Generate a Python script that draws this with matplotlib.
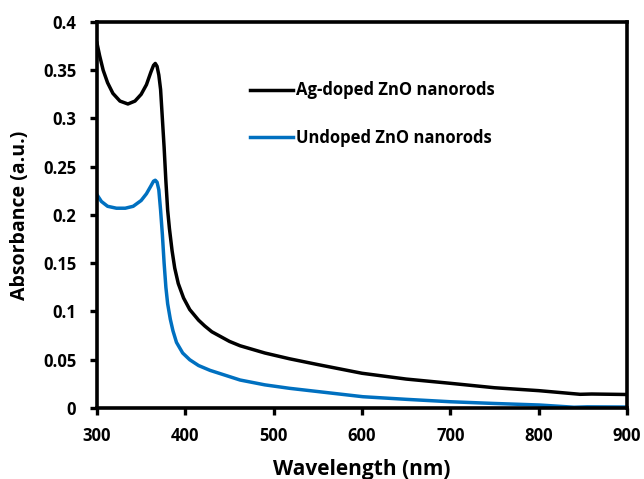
import matplotlib
matplotlib.use('Agg')
import matplotlib.pyplot as plt

plt.rcParams['font.family'] = ['Open Sans', 'DejaVu Sans']

# UV-vis absorbance spectra
wl_ag = [300, 303, 307, 312, 318, 326, 335, 343, 350, 356, 361, 364, 366, 368, 370, 372, 374,
         376, 378, 380, 382, 385, 388, 392, 398, 405, 415, 422, 430, 440, 450, 462, 490, 518,
         550, 600, 650, 700, 750, 800, 847, 860, 900]
abs_ag = [0.378, 0.365, 0.350, 0.337, 0.326, 0.318, 0.315, 0.318, 0.325, 0.335, 0.348, 0.355,
          0.357, 0.354, 0.345, 0.330, 0.300, 0.270, 0.235, 0.205, 0.186, 0.163, 0.145, 0.129,
          0.114, 0.102, 0.091, 0.085, 0.079, 0.074, 0.069, 0.0645, 0.057, 0.051, 0.045, 0.036,
          0.030, 0.0256, 0.021, 0.018, 0.0142, 0.0145, 0.014]

wl_un = [300, 305, 312, 322, 332, 341, 350, 356, 361, 364, 366, 368, 370, 372, 374, 376, 378,
         380, 383, 386, 390, 397, 405, 415, 428, 445, 462, 490, 518, 560, 601, 650, 700, 750,
         801, 840, 855, 900]
abs_un = [0.221, 0.214, 0.209, 0.207, 0.207, 0.209, 0.215, 0.222, 0.230, 0.235, 0.236, 0.234,
          0.226, 0.205, 0.180, 0.150, 0.125, 0.108, 0.092, 0.080, 0.068, 0.057, 0.050, 0.044,
          0.039, 0.034, 0.029, 0.024, 0.0204, 0.016, 0.0117, 0.009, 0.0065, 0.0047, 0.0031,
          0.0008, 0.0012, 0.001]

xticks = [300, 400, 500, 600, 700, 800, 900]
yticks = [0, 0.05, 0.1, 0.15, 0.2, 0.25, 0.3, 0.35, 0.4]
ytick_labels = ['0', '0.05', '0.1', '0.15', '0.2', '0.25', '0.3', '0.35', '0.4']

fig = plt.figure(figsize=(6.44, 4.79), dpi=100)
ax = fig.add_axes([0.1506, 0.1482, 0.823, 0.806])

ax.plot(wl_ag, abs_ag, color='black', lw=2.5, label='Ag-doped ZnO nanorods',
        solid_joinstyle='round')
ax.plot(wl_un, abs_un, color='#0070C0', lw=2.5, label='Undoped ZnO nanorods',
        solid_joinstyle='round')

ax.set_xlim(300, 900)
ax.set_ylim(0, 0.4)
ax.set_xticks(xticks)
ax.set_yticks(yticks)
ax.set_yticklabels(ytick_labels)
for lab in ax.get_xticklabels() + ax.get_yticklabels():
    lab.set_fontweight('bold')
    lab.set_fontsize(12)

for s in ax.spines.values():
    s.set_linewidth(2.6)
ax.tick_params(direction='out', length=5, width=2.4, top=False, right=False)
ax.tick_params(axis='x', pad=9)
ax.tick_params(axis='y', pad=10)

ax.set_xlabel('Wavelength (nm)', fontsize=15, fontweight='bold', labelpad=10)
ax.set_ylabel('Absorbance (a.u.)', fontsize=14, fontweight='bold', labelpad=9)

leg = ax.legend(loc='upper left', bbox_to_anchor=(0.26, 0.885), frameon=False,
                prop={'weight': 'bold', 'size': 12}, handlelength=2.6,
                handletextpad=0.2, labelspacing=1.75)

fig.savefig('out.png', dpi=100)
